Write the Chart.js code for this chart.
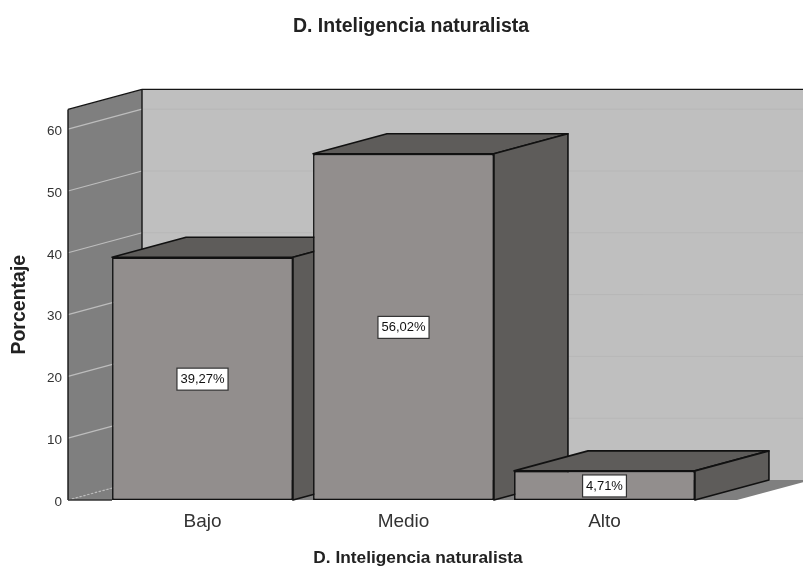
<!DOCTYPE html>
<html>
<head>
<meta charset="utf-8">
<title>D. Inteligencia naturalista</title>
<style>
  html, body { margin: 0; padding: 0; background: #fff; }
  canvas { display: block; }
</style>
<script src="https://cdn.jsdelivr.net/npm/chart.js@4"></script>
</head>
<body>
<canvas id="HChart" width="803" height="572"></canvas>
<script>
var titleText = 'D. Inteligencia naturalista'
var xTitle = 'D. Inteligencia naturalista'
var yTitle = 'Porcentaje'
var categories = ['Bajo', 'Medio', 'Alto']
var percentages = [39.27, 56.02, 4.71]
var valueLabels = ['39,27%', '56,02%', '4,71%']
var yMax = 63.2
var yStep = 10

// depth of the fake 3D box, in px
var DX = 74
var DY = -20
var FONT = '"Liberation Sans", Arial, sans-serif'

function poly(ctx, pts, fill, stroke){
    ctx.beginPath()
    ctx.moveTo(pts[0][0], pts[0][1])
    for(var i = 1; i < pts.length; i++){
        ctx.lineTo(pts[i][0], pts[i][1])
    }
    ctx.closePath()
    if(fill){
        ctx.fillStyle = fill
        ctx.fill()
    }
    if(stroke){
        ctx.strokeStyle = stroke
        ctx.lineWidth = 1.6
        ctx.lineJoin = 'round'
        ctx.stroke()
    }
}

function line(ctx, x1, y1, x2, y2, color, width){
    ctx.beginPath()
    ctx.moveTo(x1, y1)
    ctx.lineTo(x2, y2)
    ctx.strokeStyle = color
    ctx.lineWidth = width
    ctx.stroke()
}

var box3d = {
    id: 'box3d',
    beforeDatasetsDraw: function(chart){
        var ctx = chart.ctx
        var a = chart.chartArea
        var yS = chart.scales.y
        var y0 = yS.getPixelForValue(0)
        var yT = yS.getPixelForValue(yMax)
        // front plane of the box is wider than the category band
        var fl = a.left - 34
        var fr = a.right + 32
        var bl = fl + DX
        var br = fr + DX

        ctx.save()
        poly(ctx, [[bl, yT + DY], [br, yT + DY], [br, y0 + DY], [bl, y0 + DY]], '#bfbfbf')
        poly(ctx, [[fl, y0], [bl, y0 + DY], [br, y0 + DY], [fr, y0]], '#7f7f7f')
        poly(ctx, [[fl, yT], [bl, yT + DY], [bl, y0 + DY], [fl, y0]], '#7f7f7f')

        yS.ticks.forEach(function(t){
            if(t.value === 0) return
            var y = yS.getPixelForValue(t.value)
            line(ctx, fl, y, bl, y + DY, '#bdbdbd', 1.2)
            line(ctx, bl, y + DY, br, y + DY, '#b7b7b7', 1)
        })
        ctx.setLineDash([2, 2])
        line(ctx, fl, y0, bl, y0 + DY, '#bdbdbd', 1.2)
        ctx.setLineDash([])

        line(ctx, fl, yT, fl, y0, '#141414', 1.4)
        line(ctx, fl, yT, bl, yT + DY, '#141414', 1.4)
        line(ctx, bl, yT + DY, br, yT + DY, '#141414', 1.4)
        line(ctx, bl, yT + DY, bl, y0 + DY, '#141414', 1.4)
        line(ctx, fl, y0, fl + 44, y0, '#333', 1.4)

        // top and side of each bar, left to right so nearer bars cover older ones
        chart.getDatasetMeta(0).data.forEach(function(bar){
            var l = bar.x - bar.width / 2
            var r = bar.x + bar.width / 2
            poly(ctx, [[l, bar.y], [l + DX, bar.y + DY], [r + DX, bar.y + DY], [r, bar.y]], '#5e5c5a', '#111')
            poly(ctx, [[r, bar.y], [r + DX, bar.y + DY], [r + DX, bar.base + DY], [r, bar.base]], '#5e5c5a', '#111')
        })
        ctx.restore()
    },
    afterDatasetsDraw: function(chart){
        var ctx = chart.ctx
        ctx.save()
        ctx.font = '13px ' + FONT
        ctx.textAlign = 'center'
        ctx.textBaseline = 'middle'
        chart.getDatasetMeta(0).data.forEach(function(bar, i){
            var cy = (bar.y + bar.base) / 2 + 0.5
            var w = ctx.measureText(valueLabels[i]).width + 7
            ctx.fillStyle = '#fff'
            ctx.fillRect(bar.x - w / 2, cy - 11, w, 22)
            ctx.strokeStyle = '#333'
            ctx.lineWidth = 1.2
            ctx.strokeRect(bar.x - w / 2, cy - 11, w, 22)
            ctx.fillStyle = '#111'
            ctx.fillText(valueLabels[i], bar.x, cy + 0.5)
        })
        ctx.restore()
    },
    beforeDraw: function(chart){
        // title sits a little right of the canvas centre in the original
        if(!chart.titleBlock._moved){
            chart.titleBlock.left += 117
            chart.titleBlock._moved = true
        }
    },
    afterDraw: function(chart){
        var ctx = chart.ctx
        ctx.save()
        ctx.font = 'bold 17.3px ' + FONT
        ctx.fillStyle = '#222'
        ctx.textAlign = 'center'
        ctx.textBaseline = 'middle'
        ctx.fillText(xTitle, 418, 558)
        ctx.restore()
    }
}

var ctx = HChart.getContext('2d')
var chart = new Chart(ctx, {
    type: 'bar',
    data: {
        labels: categories,
        datasets: [{
            data: percentages,
            backgroundColor: '#928e8d',
            borderColor: '#111',
            borderWidth: 1.6,
            borderSkipped: false,
            clip: false,
            categoryPercentage: 1,
            barPercentage: 0.9
        }]
    },
    options: {
        responsive: false,
        animation: false,
        layout: {
            autoPadding: false,
            padding: { left: 0, right: 98, top: 0, bottom: 0 }
        },
        plugins: {
            legend: { display: false },
            tooltip: { enabled: false },
            title: {
                display: true,
                text: titleText,
                color: '#222',
                font: { family: FONT, size: 19.5, weight: 'bold' },
                padding: { top: 15, bottom: 71 }
            }
        },
        scales: {
            x: {
                grid: { display: false },
                border: { display: false },
                ticks: { color: '#333', font: { family: FONT, size: 19 }, padding: 2, maxRotation: 0 },
                afterFit: function(s){ s.height = 72 }
            },
            y: {
                min: 0,
                max: yMax,
                grid: { display: false },
                border: { display: false },
                ticks: {
                    stepSize: yStep,
                    includeBounds: false,
                    color: '#333',
                    font: { family: FONT, size: 13.5 },
                    padding: 32,
                    labelOffset: 2
                },
                title: {
                    display: true,
                    text: yTitle,
                    color: '#222',
                    font: { family: FONT, size: 19.5, weight: 'bold' },
                    padding: { top: 8, bottom: 0 }
                },
                afterFit: function(s){ s.width = 102 }
            }
        }
    },
    plugins: [box3d]
})
</script>
</body>
</html>
